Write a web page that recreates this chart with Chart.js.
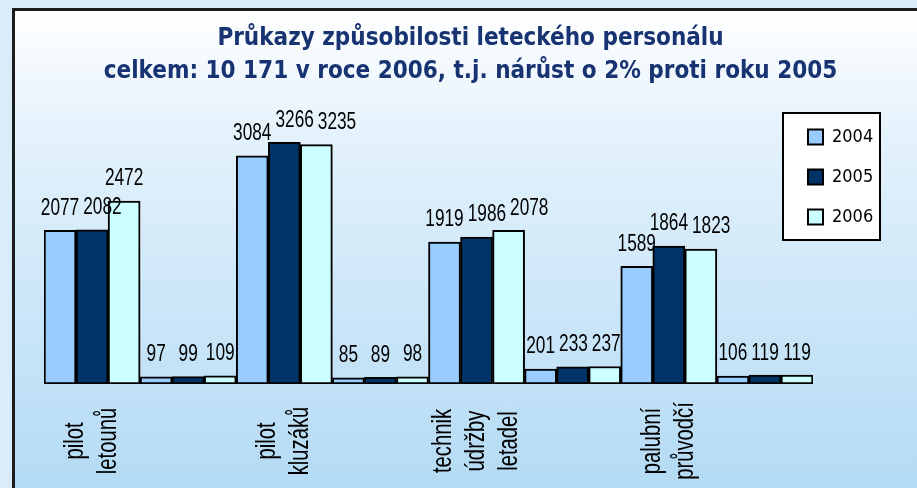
<!DOCTYPE html>
<html>
<head>
<meta charset="utf-8">
<script src="https://cdn.jsdelivr.net/npm/chart.js@4.4.1/dist/chart.umd.min.js"></script>
<style>
  html, body { margin: 0; padding: 0; background: #d9ecf9; }
  #wrap { position: relative; width: 917px; height: 488px; overflow: hidden; }
  #frame { position: absolute; left: 12px; top: 8px; right: -10px; bottom: -10px;
           border-left: 3px solid #1c1c1c; border-top: 3px solid #1c1c1c;
           background: linear-gradient(#ffffff 0%, #e4f2fc 25%, #b2daf4 100%); }
  #box { position: absolute; left: 0; top: 0; width: 917px; height: 488px; }
</style>
</head>
<body>
<div id="wrap">
  <div id="frame"></div>
  <div id="box"><canvas id="chart"></canvas></div>
</div>
<script>
let categories = [["pilot", "letounů"], "", ["pilot", "kluzáků"], "", ["technik", "údržby", "letadel"], "", ["palubní", "průvodčí"], ""];
let years = ["2004", "2005", "2006"];
let values2004 = [2077, 97, 3084, 85, 1919, 201, 1589, 106];
let values2005 = [2082, 99, 3266, 89, 1986, 233, 1864, 119];
let values2006 = [2472, 109, 3235, 98, 2078, 237, 1823, 119];
let chartTitle = ["Průkazy způsobilosti leteckého personálu", "celkem: 10 171 v roce 2006, t.j. nárůst o 2% proti roku 2005"];

let condensed = "'DejaVu Sans Condensed', 'Liberation Sans Narrow', sans-serif";
// no narrow Arial installed: plain Liberation Sans squeezed sideways looks the same
let plain = "'Liberation Sans', Arial, sans-serif";
let squeeze = 0.75;

// title sits right of centre, legend floats over the plot in a white box
let placeBoxes = {
    id: "placeBoxes",
    afterLayout(chart) {
        let t = chart.titleBlock;
        t.left += 42;
        t.right += 42;
        let lg = chart.legend;
        lg.left = chart.chartArea.right - 27;
        lg.top = 106;
        lg.right = lg.left + lg.width;
        lg.bottom = lg.top + lg.height;
    },
    beforeDraw(chart) {
        let lg = chart.legend;
        let ctx = chart.ctx;
        ctx.save();
        ctx.fillStyle = "#ffffff";
        ctx.strokeStyle = "#000000";
        ctx.lineWidth = 2;
        ctx.fillRect(lg.left - 3, lg.top + 7, 97, 127);
        ctx.strokeRect(lg.left - 3, lg.top + 7, 97, 127);
        ctx.restore();
    }
};

function narrowText(ctx, txt, x, y) {
    ctx.save();
    ctx.translate(x, y);
    ctx.scale(squeeze, 1);
    ctx.fillText(txt, 0, 0);
    ctx.restore();
}

// values above the bars, pushed right when they would run into the neighbour
let valueLabels = {
    id: "valueLabels",
    afterDatasetsDraw(chart) {
        let ctx = chart.ctx;
        ctx.save();
        ctx.font = "23px " + plain;
        ctx.fillStyle = "#000";
        ctx.textAlign = "center";
        ctx.textBaseline = "middle";
        for (let i = 0; i < chart.data.labels.length; i++) {
            let prev = null;
            chart.data.datasets.forEach((ds, d) => {
                let bar = chart.getDatasetMeta(d).data[i];
                let txt = String(ds.data[i]);
                let w = ctx.measureText(txt).width * squeeze;
                let x = bar.x;
                let y = bar.y - 22;
                if (prev && Math.abs(prev.y - y) < 17 && x - w / 2 < prev.x + prev.w / 2 + 4) {
                    x = prev.x + prev.w / 2 + 4 + w / 2;
                }
                narrowText(ctx, txt, x, y);
                prev = { x: x, y: y, w: w };
            });
        }
        ctx.restore();
    }
};

// vertical category names, lines centred on each other
let categoryLabels = {
    id: "categoryLabels",
    afterDraw(chart) {
        let ctx = chart.ctx;
        let xs = chart.scales.x;
        let yc = chart.chartArea.bottom + 57;
        ctx.save();
        ctx.font = "27px " + plain;
        ctx.fillStyle = "#000";
        ctx.textAlign = "center";
        ctx.textBaseline = "middle";
        chart.data.labels.forEach((lab, i) => {
            let lines = [].concat(lab).filter(s => s);
            if (!lines.length) return;
            ctx.save();
            ctx.translate(xs.getPixelForValue(i), yc);
            ctx.rotate(-Math.PI / 2);
            lines.forEach((s, j) => narrowText(ctx, s, 0, (j - (lines.length - 1) / 2) * 33));
            ctx.restore();
        });
        ctx.restore();
    }
};

let barColors = ["#99ccff", "#003366", "#ccffff"];
let series = [values2004, values2005, values2006];

new Chart(document.getElementById("chart").getContext("2d"), {
    type: "bar",
    data: {
        labels: categories,
        datasets: series.map((vals, k) => ({
            label: years[k],
            data: vals,
            backgroundColor: barColors[k],
            borderColor: "#000",
            borderWidth: 2,
            borderSkipped: false,
            categoryPercentage: 1,
            barPercentage: 1
        }))
    },
    options: {
        responsive: true,
        maintainAspectRatio: false,
        animation: false,
        layout: { padding: { left: 44, right: 104, top: 0, bottom: 104 } },
        scales: {
            x: { display: false },
            y: { display: false, min: 0, max: 4000 }
        },
        plugins: {
            tooltip: { enabled: false },
            title: {
                display: true,
                text: chartTitle,
                color: "#173371",
                font: { family: condensed, size: 24, weight: "bold", lineHeight: 1.375 },
                padding: { top: 22, bottom: 0 }
            },
            legend: {
                position: "chartArea",
                align: "start",
                labels: {
                    color: "#000",
                    font: { family: condensed, size: 18 },
                    boxWidth: 15,
                    boxHeight: 15,
                    padding: 22
                }
            }
        }
    },
    plugins: [placeBoxes, valueLabels, categoryLabels]
});
</script>
</body>
</html>
